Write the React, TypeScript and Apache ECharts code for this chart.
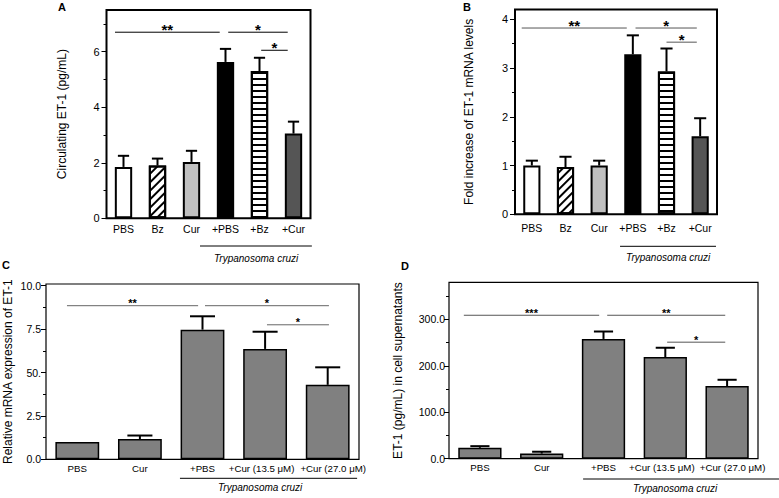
import React, { useEffect, useRef } from 'react';
import * as echarts from 'echarts';

const FONT = '"Liberation Sans", Arial, Helvetica, sans-serif';

// ---- data ----
const catsAB = ['PBS', 'Bz', 'Cur', '+PBS', '+Bz', '+Cur'];
const valsA = [1.85, 1.9, 2.03, 5.63, 5.3, 3.05];
const errA = [2.25, 2.15, 2.43, 6.1, 5.78, 3.48];
const valsB = [1.0, 0.97, 1.0, 3.28, 2.93, 1.6];
const errB = [1.1, 1.18, 1.1, 3.67, 3.4, 1.97];

const catsCD = ['PBS', 'Cur', '+PBS', '+Cur (13.5 μM)', '+Cur (27.0 μM)'];
const valsC = [1.0, 1.17, 7.47, 6.36, 4.29];
const errC = [1.0, 1.37, 8.24, 7.35, 5.3];
const valsD = [23.5, 11, 258, 219, 156.5];
const errD = [27, 15, 274, 239, 170];

const ticksA = [0, 2, 4, 6];
const minorA = [1, 3, 5, 7];
const labelsA = ['0', '2', '4', '6'];
const ticksB = [0, 1, 2, 3, 4];
const minorB = [0.5, 1.5, 2.5, 3.5];
const labelsB = ['0', '1', '2', '3', '4'];
const ticksC = [0, 2.5, 5, 7.5, 10];
const minorC = [1.25, 3.75, 6.25, 8.75];
const labelsC = ['0.0', '2.5', '50.', '7.5', '10.0'];
const ticksD = [0, 100, 200, 300];
const minorD = [50, 150, 250, 350];
const labelsD = ['0.0', '100.0', '200.0', '300.0'];

// significance brackets: [from (category units), to (category units), y value, stars]
const sigA: [number, number, number, string][] = [
  [-0.25, 2.83, 6.7, '**'],
  [3.08, 4.83, 6.7, '*'],
  [4.05, 4.83, 6.05, '*'],
];
const sigB: [number, number, number, string][] = [
  [-0.3, 2.82, 3.82, '**'],
  [3.08, 4.9, 3.82, '*'],
  [4.0, 4.9, 3.53, '*'],
];
const sigC: [number, number, number, string][] = [
  [-0.165, 1.93, 8.85, '**'],
  [2.04, 4.02, 8.85, '*'],
  [3.03, 4.02, 7.75, '*'],
];
const sigD: [number, number, number, string][] = [
  [-0.26, 1.93, 309, '***'],
  [2.06, 3.97, 309, '**'],
  [3.03, 3.97, 251, '*'],
];

const groupLabel = 'Trypanosoma cruzi';
const titles = {
  A: 'Circulating ET-1 (pg/mL)',
  B: 'Fold increase of ET-1 mRNA levels',
  C: 'Relative mRNA expression of ET-1',
  D: 'ET-1 (pg/mL) in cell supernatants',
};

function errRender(capFrac: number, lw: number) {
  return (params: any, api: any) => {
    const i = api.value(0);
    const v = api.value(1);
    const e = api.value(2);
    if (!(e > v)) return null;
    const p0 = api.coord([i, v]);
    const p1 = api.coord([i, e]);
    const half = (api.size([1, 0])[0] * capFrac) / 2;
    return {
      type: 'group',
      children: [
        { type: 'line', shape: { x1: p0[0], y1: p0[1], x2: p1[0], y2: p1[1] }, style: { stroke: '#000', lineWidth: lw } },
        { type: 'line', shape: { x1: p1[0] - half, y1: p1[1], x2: p1[0] + half, y2: p1[1] }, style: { stroke: '#000', lineWidth: lw } },
      ],
    };
  };
}

function sigRender(sig: [number, number, number, string][], fontSize: number, color: string, gap: number) {
  return (params: any, api: any) => {
    const s = sig[params.dataIndex];
    const base = api.coord([0, s[2]]);
    const band = api.size([1, 0])[0];
    const xa = base[0] + s[0] * band;
    const xb = base[0] + s[1] * band;
    return {
      type: 'group',
      children: [
        { type: 'line', shape: { x1: xa, y1: base[1], x2: xb, y2: base[1] }, style: { stroke: color, lineWidth: 1 } },
        {
          type: 'text',
          x: (xa + xb) / 2,
          y: base[1] + gap,
          style: {
            text: s[3],
            align: 'center',
            verticalAlign: 'bottom',
            textAlign: 'center',
            textVerticalAlign: 'bottom',
            font: `bold ${fontSize}px ${FONT}`,
            fill: '#000',
          },
        },
      ],
    };
  };
}

function groupRender(start: number, end: number, labelPos: number, lineOff: number, labelOff: number) {
  return (params: any, api: any) => {
    const base = api.coord([0, 0]);
    const band = api.size([1, 0])[0];
    const y = base[1] + lineOff;
    return {
      type: 'group',
      children: [
        { type: 'line', shape: { x1: base[0] + start * band, y1: y, x2: base[0] + end * band, y2: y }, style: { stroke: '#000', lineWidth: 1 } },
        {
          type: 'text',
          x: base[0] + labelPos * band,
          y: base[1] + labelOff,
          style: {
            text: groupLabel,
            align: 'center',
            verticalAlign: 'middle',
            textAlign: 'center',
            textVerticalAlign: 'middle',
            font: `italic 10px ${FONT}`,
            fill: '#000',
          },
        },
      ],
    };
  };
}

function yAxes(gi: number, max: number, ticks: number[], minor: number[], labels: string[], name: string, nameGap: number, fs: number, margin: number) {
  return [
    {
      gridIndex: gi,
      type: 'value',
      position: 'left',
      min: 0,
      max,
      axisLine: { show: false },
      splitLine: { show: false },
      axisTick: { show: true, inside: false, length: 5, customValues: ticks, lineStyle: { color: '#000', width: 1 } },
      axisLabel: {
        customValues: ticks,
        color: '#000',
        fontSize: fs,
        margin,
        formatter: (v: number) => {
          const k = ticks.indexOf(v);
          return k >= 0 ? labels[k] : '';
        },
      },
      name,
      nameLocation: 'middle',
      nameRotate: 90,
      nameGap,
      nameTextStyle: { color: '#000', fontSize: 12, fontFamily: FONT },
    },
    {
      gridIndex: gi,
      type: 'value',
      position: 'left',
      min: 0,
      max,
      axisLine: { show: false },
      splitLine: { show: false },
      axisTick: { show: true, inside: false, length: 3, customValues: minor, lineStyle: { color: '#000', width: 1 } },
      axisLabel: { show: false },
    },
  ];
}

function xAxis(gi: number, cats: any[], fs: number, margin: number) {
  return {
    gridIndex: gi,
    type: 'category',
    data: cats,
    axisLine: { show: false },
    axisTick: { show: false },
    splitLine: { show: false },
    axisLabel: { interval: 0, color: '#000', fontSize: fs, margin, hideOverlap: false },
  };
}

const black = { borderColor: '#000' };

function buildOption() {
  const hatch = {
    symbol: 'rect',
    symbolSize: 1,
    dashArrayX: [1, 0],
    dashArrayY: [1.5, 4],
    rotation: -Math.PI / 4,
    color: '#000',
  };
  const stripes = {
    symbol: 'rect',
    symbolSize: 1,
    dashArrayX: [1, 0],
    dashArrayY: [2, 3.3],
    rotation: 0,
    color: '#000',
  };
  const styleAB = [
    { color: '#ffffff' },
    { color: '#ffffff', decal: hatch },
    { color: '#c0c0c0' },
    { color: '#000000' },
    { color: '#ffffff', decal: stripes },
    { color: '#555555' },
  ];

  // small horizontal nudges of the two long category labels (as in the reference)
  const labelPad: (number[] | null)[] = [null, null, null, [0, 7, 0, 0], [0, 0, 0, 11]];
  const catsCDItems = catsCD.map((c, i) =>
    labelPad[i] ? { value: c, textStyle: { padding: labelPad[i] } } : c
  );

  const barAB = (vals: number[], xi: number, yi: number) => ({
    type: 'bar',
    xAxisIndex: xi,
    yAxisIndex: yi,
    barWidth: '51%',
    data: vals.map((v, i) => ({ value: v, itemStyle: { ...styleAB[i], ...black, borderWidth: 2 } })),
  });
  const barCD = (vals: number[], xi: number, yi: number) => ({
    type: 'bar',
    xAxisIndex: xi,
    yAxisIndex: yi,
    barWidth: '70%',
    itemStyle: { color: '#808080', borderColor: '#000', borderWidth: 1.5 },
    data: vals,
  });
  const errSeries = (vals: number[], errs: number[], xi: number, yi: number, cap: number) => ({
    type: 'custom',
    xAxisIndex: xi,
    yAxisIndex: yi,
    renderItem: errRender(cap, 2),
    data: errs.map((e, i) => [i, vals[i], e]),
    z: 5,
  });
  const sigSeries = (sig: [number, number, number, string][], xi: number, yi: number, fs: number, color: string, gap: number) => ({
    type: 'custom',
    xAxisIndex: xi,
    yAxisIndex: yi,
    renderItem: sigRender(sig, fs, color, gap),
    data: sig.map((s) => [0, s[2]]),
    z: 6,
  });
  const groupSeries = (xi: number, yi: number, start: number, end: number, lp: number, lo: number, lab: number) => ({
    type: 'custom',
    xAxisIndex: xi,
    yAxisIndex: yi,
    renderItem: groupRender(start, end, lp, lo, lab),
    data: [[0, 0]],
    z: 6,
  });

  const gridBox = (left: number, top: number, width: number, height: number, bw: number) => ({
    left, top, width, height, show: true, borderColor: '#000', borderWidth: bw, backgroundColor: 'transparent',
  });

  return {
    animation: false,
    textStyle: { fontFamily: FONT },
    grid: [
      gridBox(106.5, 10, 204, 208.3, 2),
      gridBox(515, 9.5, 202, 204.8, 2),
      gridBox(46, 284, 313, 175.3, 1.2),
      gridBox(449, 282.3, 309, 176.4, 1.2),
    ],
    xAxis: [
      xAxis(0, catsAB, 10.5, 5),
      xAxis(1, catsAB, 10.5, 8),
      xAxis(2, catsCDItems, 9.7, 4),
      xAxis(3, catsCDItems, 9.7, 4),
    ],
    yAxis: [
      ...yAxes(0, 7.5, ticksA, minorA, labelsA, titles.A, 38.5, 11, 7),
      ...yAxes(1, 4.2, ticksB, minorB, labelsB, titles.B, 40, 11, 7),
      ...yAxes(2, 10.1, ticksC, minorC, labelsC, titles.C, 32.5, 10.5, 5),
      ...yAxes(3, 380, ticksD, minorD, labelsD, titles.D, 45.5, 10.5, 4),
    ],
    series: [
      barAB(valsA, 0, 0),
      errSeries(valsA, errA, 0, 0, 0.33),
      sigSeries(sigA, 0, 0, 15, '#000', 5),
      groupSeries(0, 0, 2.25, 5.54, 3.9, 27.7, 39.7),

      barAB(valsB, 1, 2),
      errSeries(valsB, errB, 1, 2, 0.36),
      sigSeries(sigB, 1, 2, 15, '#555', 5),
      groupSeries(1, 2, 2.62, 5.47, 4.05, 32, 43.5),

      barCD(valsC, 2, 4),
      errSeries(valsC, errC, 2, 4, 0.4),
      sigSeries(sigC, 2, 4, 11, '#666', 3),
      groupSeries(2, 4, 1.64, 4.47, 2.92, 19, 28),

      barCD(valsD, 3, 6),
      errSeries(valsD, errD, 3, 6, 0.31),
      sigSeries(sigD, 3, 6, 11, '#555', 3),
      groupSeries(3, 6, 1.67, 4.95, 3.16, 20.3, 29.5),
    ],
    graphic: [
      { type: 'text', x: 62, y: 7, style: { text: 'A', font: `bold 11px ${FONT}`, fill: '#000', align: 'center', verticalAlign: 'middle', textAlign: 'center', textVerticalAlign: 'middle' } },
      { type: 'text', x: 467, y: 7, style: { text: 'B', font: `bold 11px ${FONT}`, fill: '#000', align: 'center', verticalAlign: 'middle', textAlign: 'center', textVerticalAlign: 'middle' } },
      { type: 'text', x: 6, y: 265, style: { text: 'C', font: `bold 11px ${FONT}`, fill: '#000', align: 'center', verticalAlign: 'middle', textAlign: 'center', textVerticalAlign: 'middle' } },
      { type: 'text', x: 405, y: 266, style: { text: 'D', font: `bold 11px ${FONT}`, fill: '#000', align: 'center', verticalAlign: 'middle', textAlign: 'center', textVerticalAlign: 'middle' } },
    ],
  };
}

export default function App() {
  const ref = useRef<HTMLDivElement>(null);
  useEffect(() => {
    if (!ref.current) return;
    const chart = echarts.init(ref.current, null, { renderer: 'svg' });
    chart.setOption(buildOption() as any);
    return () => chart.dispose();
  }, []);
  return (
    <div
      ref={ref}
      style={{ position: 'absolute', left: 0, top: 0, width: 779, height: 498, background: '#fff' }}
    />
  );
}
